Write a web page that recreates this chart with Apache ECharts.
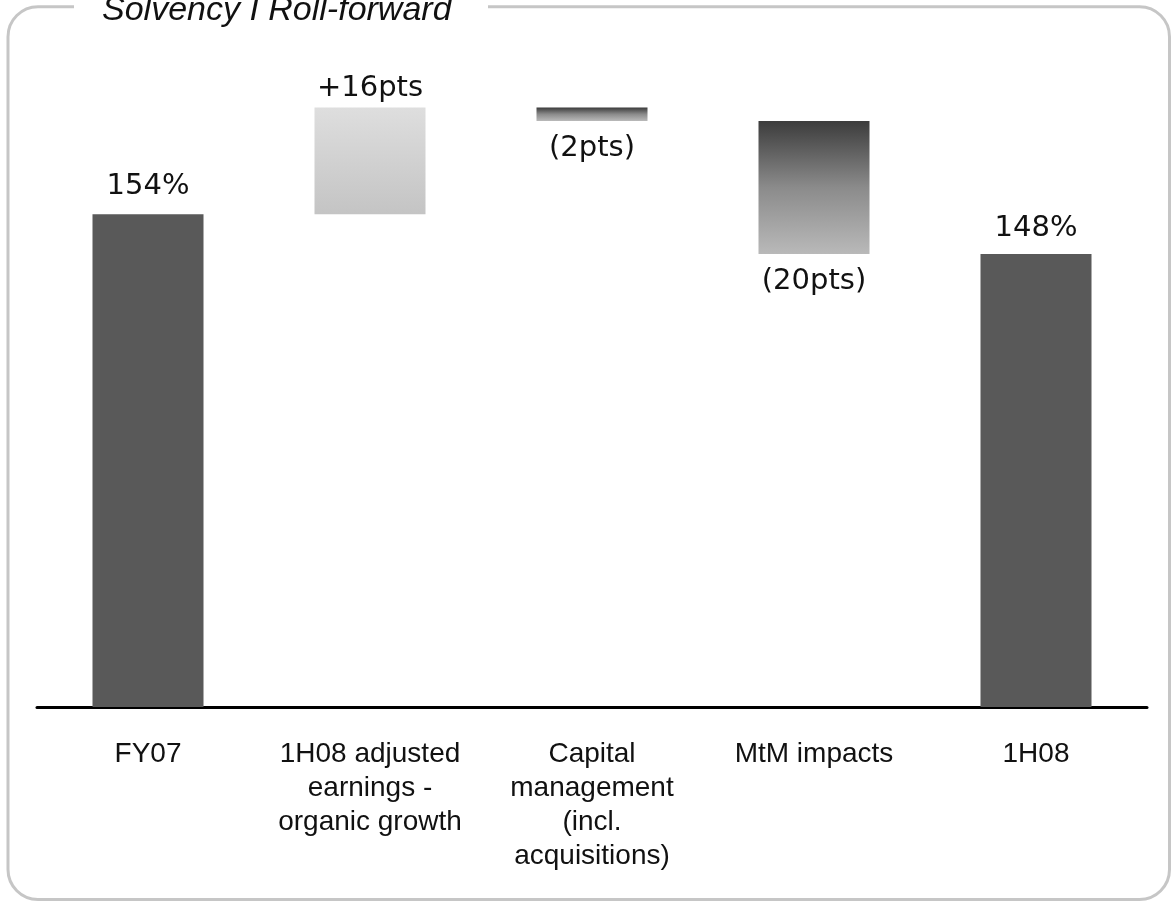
<!DOCTYPE html>
<html>
<head>
<meta charset="utf-8">
<script src="https://cdn.jsdelivr.net/npm/echarts@6/dist/echarts.min.js"></script>
<style>
  html, body { margin: 0; padding: 0; background: #ffffff; }
  #chart { width: 1173px; height: 902px; }
</style>
</head>
<body>
<div id="chart"></div>
<script>
// Solvency I roll-forward: opening ratio, movements, closing ratio
const categories = [
  'FY07',
  '1H08 adjusted\nearnings -\norganic growth',
  'Capital\nmanagement\n(incl.\nacquisitions)',
  'MtM impacts',
  '1H08'
];
const stepKinds = ['total', 'delta', 'delta', 'delta', 'total'];
const stepValues = [154, 16, -2, -20, 148];

// Waterfall: an invisible base plus a visible segment, stacked
const baseValues = [];
const barValues = [];
let running = 0;
stepKinds.forEach((kind, i) => {
  const v = stepValues[i];
  if (kind === 'total') {
    baseValues.push(0);
    barValues.push(v);
    running = v;
  } else if (v >= 0) {
    baseValues.push(running);
    barValues.push(v);
    running += v;
  } else {
    running += v;
    baseValues.push(running);
    barValues.push(-v);
  }
});

function labelText(i) {
  const v = stepValues[i];
  if (stepKinds[i] === 'total') return v + '%';
  return v >= 0 ? '+' + v + 'pts' : '(' + (-v) + 'pts)';
}

const FONT = '"Liberation Sans", Arial, sans-serif';
const VALUE_FONT = '"DejaVu Sans", "Liberation Sans", sans-serif';
const darkFill = '#595959';
const riseFill = {
  type: 'linear', x: 0, y: 0, x2: 0, y2: 1,
  colorStops: [{ offset: 0, color: '#dedede' }, { offset: 1, color: '#c4c4c4' }]
};
const fallFill = {
  type: 'linear', x: 0, y: 0, x2: 0, y2: 1,
  colorStops: [{ offset: 0, color: '#3c3c3c' }, { offset: 0.5, color: '#8b8b8b' }, { offset: 1, color: '#b9b9b9' }]
};
// label gap above or below each bar
const labelGap = [13, 5, 13, 13, 11];

const visibleData = barValues.map((v, i) => {
  const kind = stepKinds[i];
  const up = kind === 'total' || stepValues[i] >= 0;
  return {
    value: v,
    itemStyle: { color: kind === 'total' ? darkFill : (up ? riseFill : fallFill) },
    label: { position: up ? 'top' : 'bottom', distance: labelGap[i] }
  };
});

const chart = echarts.init(document.getElementById('chart'), null, { renderer: 'canvas' });
chart.setOption({
  animation: false,
  backgroundColor: '#ffffff',
  grid: { left: 37, right: 26, top: 41, bottom: 195, containLabel: false },
  xAxis: {
    type: 'category',
    data: categories,
    axisTick: { show: false },
    axisLine: { show: true, lineStyle: { color: '#000000', width: 3 } },
    axisLabel: {
      interval: 0,
      margin: 30,
      color: '#111111',
      fontFamily: FONT,
      fontSize: 28,
      lineHeight: 34,
      align: 'center'
    }
  },
  yAxis: {
    type: 'value',
    min: 80,
    max: 180,
    show: false,
    splitLine: { show: false }
  },
  series: [
    {
      type: 'bar',
      stack: 'roll',
      data: baseValues,
      barWidth: '50%',
      itemStyle: { color: 'rgba(0,0,0,0)' },
      emphasis: { disabled: true },
      silent: true
    },
    {
      type: 'bar',
      stack: 'roll',
      data: visibleData,
      barWidth: '50%',
      label: {
        show: true,
        color: '#111111',
        fontFamily: VALUE_FONT,
        fontSize: 29,
        formatter: p => labelText(p.dataIndex)
      }
    }
  ],
  graphic: [
    {
      type: 'rect',
      silent: true,
      shape: { x: 8, y: 6.7, width: 1161.5, height: 892.8, r: 30 },
      style: { fill: 'none', stroke: '#c6c6c6', lineWidth: 3 },
      z: 0
    },
    {
      type: 'rect',
      silent: true,
      shape: { x: 74, y: 0, width: 414, height: 16 },
      style: { fill: '#ffffff' },
      z: 1
    },
    {
      type: 'text',
      silent: true,
      x: 102,
      y: 10.5,
      style: {
        text: 'Solvency I Roll-forward',
        fontFamily: FONT,
        fontStyle: 'italic',
        fontSize: 34,
        fill: '#111111',
        verticalAlign: 'middle',
        align: 'left'
      },
      z: 2
    }
  ]
});
</script>
</body>
</html>
